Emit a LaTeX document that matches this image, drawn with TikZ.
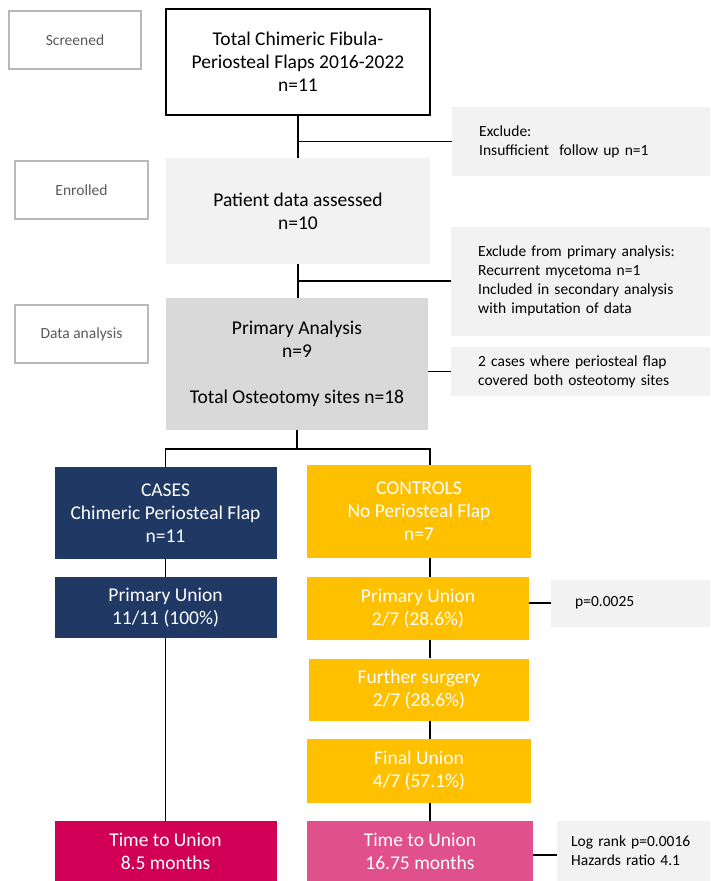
\documentclass[tikz,border=0pt]{standalone}
\usepackage{fontspec}
\setmainfont{Carlito}
\usepackage{tikz}
\usetikzlibrary{positioning,calc}
\definecolor{navybox}{HTML}{203864}
\definecolor{amberbox}{HTML}{FFC000}
\definecolor{crimsonbox}{HTML}{D10056}
\definecolor{pinkbox}{HTML}{E0508C}
\definecolor{palegray}{HTML}{F2F2F2}
\definecolor{midgray}{HTML}{D9D9D9}
\definecolor{labelgray}{HTML}{595959}
\tikzset{
  basic/.style   = {rectangle, inner sep=0pt, align=center,
                    font=\fontsize{19.5}{23}\selectfont},
  stage/.style   = {basic, draw=gray!55, line width=1.6pt, text=labelgray,
                    minimum width=133pt, minimum height=58pt,
                    font=\fontsize{15.5}{19}\selectfont},
  flow/.style    = {basic, minimum width=264pt, minimum height=106pt},
  side/.style    = {rectangle, inner ysep=0pt, align=left, anchor=west,
                    fill=palegray, font=\fontsize{15.5}{19}\selectfont},
  arm/.style     = {basic, text=white, minimum width=222pt},
  cases/.style   = {arm, fill=navybox},
  ctrl/.style    = {arm, fill=amberbox},
  link/.style    = {-, line width=1.5pt}
}

\begin{document}
\begin{tikzpicture}[x=1pt,y=-1pt]
  \useasboundingbox (0,0) rectangle (710,881);
  % stage labels
  \node[stage, minimum width=132pt] (screened) at (75,40)    {Screened};
  \node[stage] (enrolled) at (81.5,190) {Enrolled};
  \node[stage] (analysis) at (81.5,334) {Data analysis};
  % main column
  \node[flow, draw, line width=2pt] (total) at (298,62)
        {Total Chimeric Fibula-\\Periosteal Flaps 2016-2022\\n=11};
  \node[flow, fill=palegray] (patient) at (298,211)
        {Patient data assessed\\n=10};
  \node[flow, fill=midgray, minimum width=262pt, minimum height=132pt] (primary) at (297,364)
        {Primary Analysis\\n=9\\[23pt]Total Osteotomy sites n=18};
  % side notes
  \node[side, inner xsep=27pt, text width=204pt, minimum height=69pt] (excl1) at (452,141.5)
        {Exclude:\\Insufficient\ \ follow up n=1};
  \node[side, inner xsep=27pt, text width=205pt, minimum height=109pt] (excl2) at (451,281)
        {Exclude from primary analysis:\\Recurrent mycetoma n=1\\Included in secondary analysis\\with imputation of data};
  \node[side, inner xsep=27pt, text width=205pt, minimum height=49pt] (sites) at (451,371.5)
        {2 cases where periosteal flap\\covered both osteotomy sites};
  % two arms
  \node[cases, minimum height=92pt] (caseshead) at (165.5,513)
        {CASES\\Chimeric Periosteal Flap\\n=11};
  \node[ctrl, minimum width=224pt, minimum height=93pt] (ctrlhead) at (419,511.5)
        {CONTROLS\\No Periosteal Flap\\n=7};
  \node[cases, minimum height=61pt] (caseunion) at (165.5,607.5)
        {Primary Union\\11/11 (100\%)};
  \node[ctrl, minimum height=63pt] (ctrlunion) at (418,608.5)
        {Primary Union\\2/7 (28.6\%)};
  \node[ctrl, minimum width=220pt, minimum height=62pt] (surgery) at (419,689.5)
        {Further surgery\\2/7 (28.6\%)};
  \node[ctrl, minimum width=224pt, minimum height=64pt] (finalunion) at (419,771)
        {Final Union\\4/7 (57.1\%)};
  \node[arm, fill=crimsonbox, minimum height=60pt] (casetime) at (165.5,851)
        {Time to Union\\8.5 months};
  \node[arm, fill=pinkbox, minimum width=226pt, minimum height=60pt] (ctrltime) at (420,851)
        {Time to Union\\16.75 months};
  \node[side, inner xsep=24pt, text width=111pt, minimum height=47pt] (pvalue) at (551,603)
        {p=0.0025};
  \node[side, inner xsep=14pt, text width=125pt, minimum height=60pt] (logrank) at (557,851)
        {Log rank p=0.0016\\Hazards ratio 4.1};
  % connectors
  \coordinate (split) at ($(primary.south)+(0,19)$);
  \coordinate (rline) at (430,0);
  \draw[link] (total.south) -- (patient.north);
  \draw[link] (excl1.west) -- (excl1.west -| total.south);
  \draw[link] (patient.south) -- (patient.south |- primary.north);
  \draw[link] (excl2.west) -- (excl2.west -| patient.south);
  \draw[link] (primary.east |- sites.west) -- (sites.west);
  \draw[link] (primary.south) -- (split);
  \draw[link] (caseshead.north) |- (split) -| (ctrlhead.north -| rline);
  \draw[link] (caseshead.south) -- (caseunion.north);
  \draw[link] (caseunion.south) -- (casetime.north);
  \draw[link] (ctrlhead.south -| rline) -- (ctrlunion.north -| rline);
  \draw[link] (ctrlunion.south -| rline) -- (surgery.north -| rline);
  \draw[link] (surgery.south -| rline) -- (finalunion.north -| rline);
  \draw[link] (finalunion.south -| rline) -- (ctrltime.north -| rline);
  \draw[link] (pvalue.west -| ctrlunion.east) -- (pvalue.west);
  \draw[link] ([yshift=-4pt]logrank.west -| ctrltime.east) -- ([yshift=-4pt]logrank.west);
\end{tikzpicture}
\end{document}
